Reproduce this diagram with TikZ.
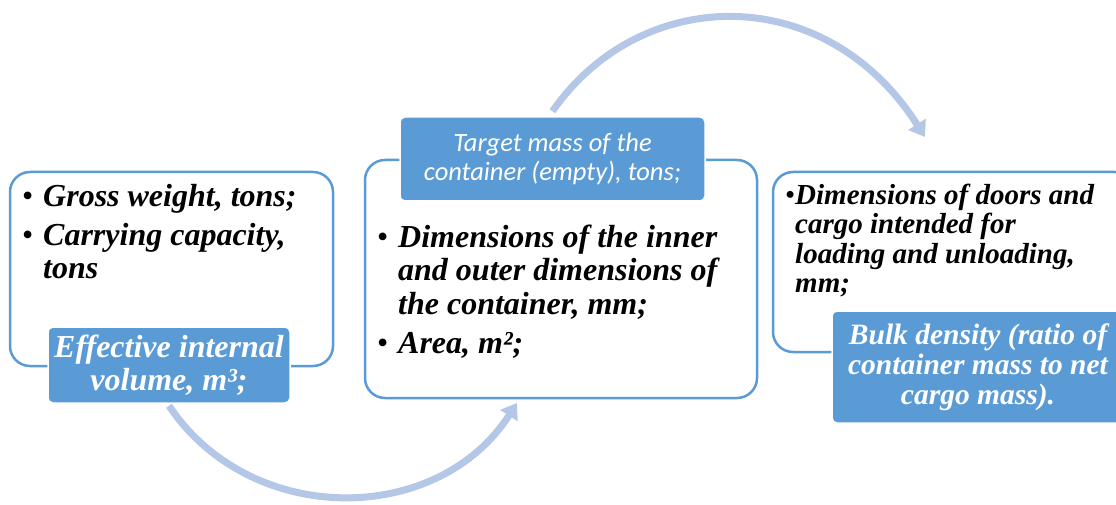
\documentclass[tikz,border=0pt]{standalone}
\usepackage{fontspec}
\setmainfont{Liberation Serif}
\newfontfamily\tagsans{Carlito}
\usetikzlibrary{arrows.meta,positioning,backgrounds}

\definecolor{boxblue}{HTML}{5B9BD5}
\definecolor{arrowblue}{HTML}{B4C7E7}

\newcommand{\itembullet}[1][21pt]{\makebox[#1][l]{\upshape\mdseries\textbullet}}
\newcommand{\itemgap}[1][21pt]{\hspace*{#1}}

\tikzset{
  infobox/.style={draw=boxblue, line width=2.5pt, fill=white, rounded corners=20pt, inner sep=0pt},
  tagbox/.style={fill=boxblue, draw=white, line width=1.5pt, rounded corners=5pt, text=white, align=center, inner sep=0pt},
  itemtext/.style={anchor=north west, inner sep=0pt, align=left, font=\fontsize{32}{33.5}\selectfont\bfseries\itshape},
  cyclearrow/.style={draw=arrowblue, line width=7pt, -{Triangle[length=15pt,width=20pt]}}
}

\begin{document}
\begin{tikzpicture}[x=1pt,y=-1pt]
\useasboundingbox (0,0) rectangle (1116,505);
\clip (0,0) rectangle (1116,505);

% boxes
\node[infobox, minimum width=323pt, minimum height=194pt] (box1) at (171.5,269) {};
\node[infobox, minimum width=392pt, minimum height=238pt] (box2) at (561,279) {};
\node[infobox, minimum width=362pt, minimum height=180pt] (box3) at (954,262) {};

% labels
\node[tagbox, minimum width=242pt, minimum height=76pt,
  font=\fontsize{32}{33}\selectfont\bfseries\itshape] (lbl1) at (169,365)
  {Effective internal\\volume, m³;};
\node[tagbox, minimum width=305pt, minimum height=84pt,
  font=\fontsize{26.5}{29}\selectfont\tagsans\itshape] (lbl2) at (552.5,159)
  {Target mass of the\\container (empty), tons;};
\node[tagbox, minimum width=292pt, minimum height=112pt,
  font=\fontsize{29.5}{30}\selectfont\bfseries\itshape] (lbl3) at (978,367)
  {Bulk density (ratio of\\container mass to net\\cargo mass).};

% lists
\node[itemtext] (list1) at (22,184.5) {%
  \itembullet Gross weight, tons;\\[5pt]
  \itembullet Carrying capacity,\\
  \itemgap tons};
\node[itemtext] (list2) at (377,224.5) {%
  \itembullet Dimensions of the inner\\
  \itemgap and outer dimensions of\\
  \itemgap the container, mm;\\[6pt]
  \itembullet Area, m²;};
\node[itemtext, font=\fontsize{29}{29.5}\selectfont\bfseries\itshape] (list3) at (785,183.5) {%
  \itembullet[10pt]Dimensions of doors and\\
  \itemgap[10pt]cargo intended for\\
  \itemgap[10pt]loading and unloading,\\
  \itemgap[10pt]mm;};

% arrows
\coordinate (upend) at (925,137);
\coordinate (lowend) at (517,403);
\begin{scope}[on background layer]
\draw[cyclearrow] ([yshift=5pt]lbl2.north) .. controls (640,-15) and (825,-20) .. (upend);
\draw[cyclearrow] ([yshift=-2pt]lbl1.south) .. controls (250,527) and (437,527) .. (lowend);
\end{scope}

\end{tikzpicture}
\end{document}
